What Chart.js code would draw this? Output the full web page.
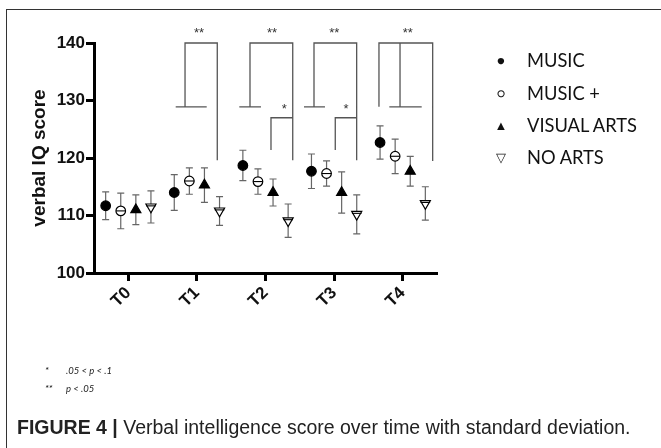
<!DOCTYPE html>
<html>
<head>
<meta charset="utf-8">
<script src="https://cdn.jsdelivr.net/npm/chart.js@4.4.1/dist/chart.umd.min.js"></script>
<style>
  body { margin: 0; background: #fff; }
  #wrap { position: relative; width: 661px; height: 448px; overflow: hidden; font-family: 'Liberation Sans', Arial, sans-serif; }
  #frame { position: absolute; left: 6px; top: 9px; width: 700px; height: 500px; border-left: 1.5px solid #333; border-top: 1.5px solid #333; }
  canvas { position: absolute; left: 0; top: 0; }
  .leg { position: absolute; left: 492px; height: 20px; line-height: 20px; font-family: Lato, 'Open Sans', sans-serif; font-size: 18.3px; color: #111; white-space: nowrap; }
  .leg .m { display: inline-block; width: 18px; text-align: center; font-size: 13px; margin-right: 17px; vertical-align: top; }
  .note { position: absolute; font-family: Lato, sans-serif; font-size: 9.5px; font-style: italic; color: #222; white-space: nowrap; }
  #caption { position: absolute; left: 17px; top: 416px; font-size: 19.5px; color: #222; white-space: nowrap; }
  #caption b { font-weight: bold; }
</style>
</head>
<body>
<div id="wrap">
  <div id="frame"></div>
  <canvas id="chart" width="661" height="448"></canvas>
  <div id="legend"></div>
  <div class="note" style="left:45px; top:365px;">*</div>
  <div class="note" style="left:66px; top:365px;">.05 &lt; p &lt; .1</div>
  <div class="note" style="left:45px; top:383px;">**</div>
  <div class="note" style="left:66px; top:383px;">p &lt; .05</div>
  <div id="caption"><b>FIGURE 4 |</b> Verbal intelligence score over time with standard deviation.</div>
</div>
<script>
// Zeitpunkte und Gruppen
const timePoints = ['T0', 'T1', 'T2', 'T3', 'T4'];
const groupNames = ['MUSIC', 'MUSIC +', 'VISUAL ARTS', 'NO ARTS'];

// Mittelwerte
const musicMean     = [111.7, 114.0, 118.7, 117.7, 122.7];
const musicPlusMean = [110.8, 116.0, 115.9, 117.3, 120.3];
const visualMean    = [111.0, 115.3, 114.0, 114.0, 117.7];
const noArtsMean    = [111.5, 110.8, 109.1, 110.2, 112.1];

// Standardabweichungen
const musicSd     = [2.4, 3.1, 2.65, 3.0, 2.9];
const musicPlusSd = [3.1, 2.3, 2.2, 2.2, 3.0];
const visualSd    = [2.6, 3.0, 2.35, 3.6, 2.6];
const noArtsSd    = [2.8, 2.5, 2.9, 3.4, 2.9];

const yTicks = [100, 110, 120, 130, 140];

// Signifikanz-Klammern (x in Zeitpunkt-Einheiten, y in Score)
const brackets = [
  { label: '**', top: 140, lx: 0.827, rx: 1.297, baseY: 128.9, baseFrom: 0.691, baseTo: 1.143, rightEnd: 119.6, textX: 1.03 },
  { label: '**', top: 140, lx: 1.774, rx: 2.397, baseY: 128.9, baseFrom: 1.618, baseTo: 1.934, rightEnd: 119.6, textX: 2.095 },
  { label: '**', top: 140, lx: 2.707, rx: 3.329, baseY: 128.9, baseFrom: 2.561, baseTo: 2.867, rightEnd: 119.6, textX: 3.003 },
  { label: '**', top: 140, lx: 3.654, rx: 4.437, baseY: 128.9, baseFrom: 3.805, baseTo: 4.277, rightEnd: 119.5, textX: 4.073, midX: 3.961 },
];
const smallBrackets = [
  { label: '*', top: 127.0, lx: 2.080, rx: 2.397, bottom: 121.4, textX: 2.274 },
  { label: '*', top: 127.0, lx: 3.017, rx: 3.329, bottom: 121.4, textX: 3.173 },
];

// Versatz der Gruppen innerhalb eines Zeitpunkts
const groupOffset = [-0.33, -0.11, 0.11, 0.33];

const means = [musicMean, musicPlusMean, visualMean, noArtsMean];
const sds = [musicSd, musicPlusSd, visualSd, noArtsSd];

const styles = [
  { pointStyle: 'circle', radius: 4.8, bg: '#000', rot: 0 },
  { pointStyle: 'circle', radius: 4.8, bg: '#fff', rot: 0 },
  { pointStyle: 'triangle', radius: 5.8, bg: '#000', rot: 0 },
  { pointStyle: 'triangle', radius: 5.8, bg: '#fff', rot: 180 },
];

const datasets = groupNames.map((name, g) => ({
  label: name,
  data: means[g].map((v, i) => ({ x: i + groupOffset[g], y: v, sd: sds[g][i] })),
  pointStyle: styles[g].pointStyle,
  pointRadius: styles[g].radius,
  pointRotation: styles[g].rot,
  pointBackgroundColor: styles[g].bg,
  pointBorderColor: '#000',
  pointBorderWidth: 1.2,
  showLine: false
}));

// Legende (HTML)
const legendGlyphs = ['\u25CF', '\u25CB', '\u25B2', '\u25BD'];
const legendTops = [50, 83, 115, 147];
document.getElementById('legend').innerHTML = groupNames.map((n, g) =>
  `<div class="leg" style="top:${legendTops[g]}px"><span class="m">${legendGlyphs[g]}</span>${n}</div>`
).join('');

const errorBars = {
  id: 'errorBars',
  beforeDatasetsDraw(chart) {
    const { ctx, scales: { x, y } } = chart;
    ctx.save();
    ctx.strokeStyle = '#666';
    ctx.lineWidth = 1.2;
    chart.data.datasets.forEach(ds => {
      ds.data.forEach(p => {
        const px = x.getPixelForValue(p.x);
        const y1 = y.getPixelForValue(p.y + p.sd);
        const y2 = y.getPixelForValue(p.y - p.sd);
        ctx.beginPath();
        ctx.moveTo(px, y1); ctx.lineTo(px, y2);
        ctx.moveTo(px - 3.5, y1); ctx.lineTo(px + 3.5, y1);
        ctx.moveTo(px - 3.5, y2); ctx.lineTo(px + 3.5, y2);
        ctx.stroke();
      });
    });
    ctx.restore();
  },
  afterDatasetsDraw(chart) {
    const { ctx, scales: { x, y } } = chart;
    ctx.save();
    // Querstrich durch offene Symbole
    ctx.strokeStyle = '#000';
    ctx.lineWidth = 1.1;
    [1, 3].forEach(g => {
      chart.data.datasets[g].data.forEach(p => {
        const px = x.getPixelForValue(p.x);
        const py = y.getPixelForValue(p.y) - (g === 3 ? 1 : 0);
        ctx.beginPath();
        ctx.moveTo(px - 4.8, py); ctx.lineTo(px + 4.8, py);
        ctx.stroke();
      });
    });
    // Klammern
    ctx.strokeStyle = '#555';
    ctx.lineWidth = 1.3;
    ctx.fillStyle = '#333';
    ctx.textAlign = 'center';
    ctx.textBaseline = 'middle';
    ctx.font = '13px "Liberation Sans", Arial, sans-serif';
    const X = v => x.getPixelForValue(v);
    const Y = v => y.getPixelForValue(v);
    brackets.forEach(b => {
      ctx.beginPath();
      ctx.moveTo(X(b.lx), Y(b.baseY));
      ctx.lineTo(X(b.lx), Y(b.top));
      ctx.lineTo(X(b.rx), Y(b.top));
      ctx.lineTo(X(b.rx), Y(b.rightEnd));
      if (b.midX !== undefined) {
        ctx.moveTo(X(b.midX), Y(b.top));
        ctx.lineTo(X(b.midX), Y(b.baseY));
      }
      ctx.moveTo(X(b.baseFrom), Y(b.baseY));
      ctx.lineTo(X(b.baseTo), Y(b.baseY));
      ctx.stroke();
      ctx.fillText(b.label, X(b.textX), Y(b.top) - 10);
    });
    smallBrackets.forEach(b => {
      ctx.beginPath();
      ctx.moveTo(X(b.lx), Y(b.bottom));
      ctx.lineTo(X(b.lx), Y(b.top));
      ctx.lineTo(X(b.rx), Y(b.top));
      ctx.stroke();
      ctx.fillText(b.label, X(b.textX), Y(b.top) - 8);
    });
    ctx.restore();
  }
};

new Chart(document.getElementById('chart'), {
  type: 'scatter',
  data: { datasets },
  options: {
    responsive: false,
    animation: false,
    layout: { padding: { left: 19, top: 43, right: 224, bottom: 135 } },
    plugins: { legend: { display: false }, tooltip: { enabled: false } },
    scales: {
      x: {
        type: 'linear',
        min: -0.5,
        max: 4.5,
        afterFit: s => { s.height = 40; },
        afterBuildTicks: s => { s.ticks = timePoints.map((t, i) => ({ value: i })); },
        ticks: {
          callback: v => timePoints[v],
          minRotation: 45,
          maxRotation: 45,
          padding: 2,
          color: '#111',
          font: { family: '"Liberation Sans", Arial, sans-serif', size: 17, weight: 'bold' }
        },
        grid: { drawOnChartArea: false, tickLength: 8, tickWidth: 3, tickColor: '#000' },
        border: { display: true, width: 3, color: '#000' }
      },
      y: {
        min: 100,
        max: 140,
        afterFit: s => { s.width = 75; },
        afterBuildTicks: s => { s.ticks = yTicks.map(v => ({ value: v })); },
        ticks: {
          padding: 1,
          color: '#111',
          font: { family: '"Liberation Sans", Arial, sans-serif', size: 17, weight: 'bold' }
        },
        title: {
          display: true,
          text: 'verbal IQ score',
          color: '#111',
          padding: { top: 9, bottom: 0 },
          font: { family: '"Liberation Sans", Arial, sans-serif', size: 19, weight: 'bold' }
        },
        grid: { drawOnChartArea: false, tickLength: 8, tickWidth: 3, tickColor: '#000' },
        border: { display: true, width: 3, color: '#000' }
      }
    }
  },
  plugins: [errorBars]
});
</script>
</body>
</html>
